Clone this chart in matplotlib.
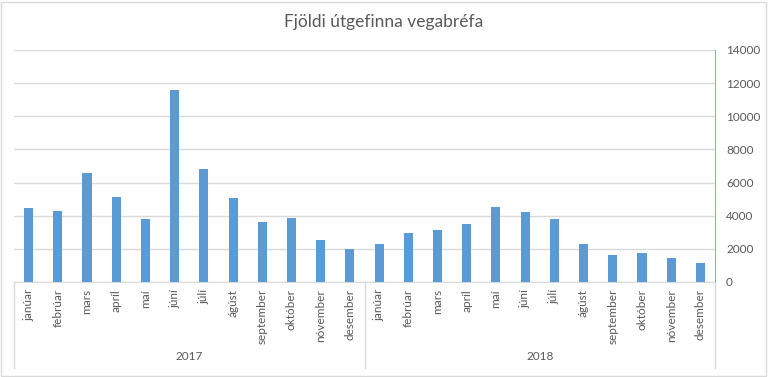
import matplotlib
matplotlib.use("Agg")
import matplotlib.pyplot as plt
from matplotlib.patches import Rectangle

# Gögn lesin af myndinni
months = ["janúar", "febrúar", "mars", "apríl", "maí", "júní", "júlí",
          "ágúst", "september", "október", "nóvember", "desember"]
years = ["2017", "2018"]
values_2017 = [4470, 4290, 6580, 5130, 3800, 11590, 6820, 5070, 3620, 3860, 2530, 1990]
values_2018 = [2290, 2960, 3140, 3500, 4530, 4220, 3800, 2290, 1630, 1750, 1450, 1150]
yticks = [0, 2000, 4000, 6000, 8000, 10000, 12000, 14000]

plt.rcParams['font.family'] = ['Lato', 'DejaVu Sans']

values = values_2017 + values_2018
labels = months + months
x = list(range(len(values)))

fig = plt.figure(figsize=(7.68, 3.77), dpi=100)
W, H = 768, 377
left, right, top, bottom = 14, 715, 50, 282
ax = fig.add_axes([left / W, 1 - bottom / H, (right - left) / W, (bottom - top) / H])

ax.bar(x, values, width=0.31, color="#5B9BD5", zorder=3)
ax.set_xlim(-0.5, len(values) - 0.5)
ax.set_ylim(0, 14000)
ax.set_yticks(yticks)
ax.yaxis.tick_right()
ax.tick_params(axis="y", length=0, labelsize=8.5, labelcolor="#595959", pad=8)
ax.grid(axis="y", color="#D9D9D9", linewidth=1, zorder=0)

ax.set_xticks(x)
ax.set_xticklabels(labels, rotation=90, fontsize=8.5, color="#595959")
ax.tick_params(axis="x", length=0, pad=5)

for s in ["top", "left"]:
    ax.spines[s].set_visible(False)
ax.spines["right"].set_color("#8EAFD0")
ax.spines["bottom"].set_color("#D9D9D9")

# flokkaskil undir ásnum
trans = ax.get_xaxis_transform()
depth = (368 - bottom) / (bottom - top)
for sep in [-0.5, 11.5, 23.5]:
    ax.plot([sep, sep], [0, -depth], color="#D9D9D9", linewidth=1,
            transform=trans, clip_on=False)
for i, yr in enumerate(years):
    ax.text(5.5 + 12 * i, -(357 - bottom) / (bottom - top), yr, transform=trans,
            ha="center", va="center", fontsize=8.5, color="#595959")

fig.text(0.5, 1 - 22 / H, "Fjöldi útgefinna vegabréfa", ha="center", va="center",
         fontsize=12.5, color="#595959")

fig.patches.append(Rectangle((1 / W, 1 / H), 1 - 3 / W, 1 - 3 / H, transform=fig.transFigure,
                             fill=False, edgecolor="#D9D9D9", linewidth=1))

fig.savefig("out.png", dpi=100)
